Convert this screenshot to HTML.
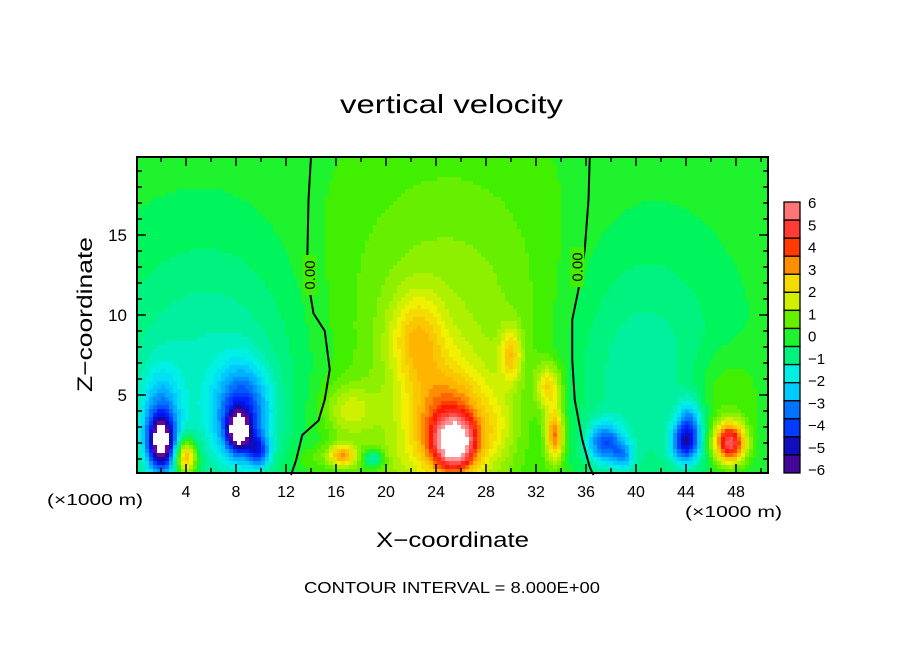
<!DOCTYPE html>
<html><head><meta charset="utf-8"><style>
body{margin:0;background:#fff;}
svg text{font-family:"Liberation Sans",sans-serif;fill:#000;}
</style></head><body>
<svg id="chart" width="904" height="654" xmlns="http://www.w3.org/2000/svg">
<text x="340" y="113" font-size="26" textLength="223" lengthAdjust="spacingAndGlyphs">vertical velocity</text>
<text x="376" y="547" font-size="21" textLength="153" lengthAdjust="spacingAndGlyphs">X−coordinate</text>
<text transform="translate(92,392) rotate(-90)" font-size="21" textLength="155" lengthAdjust="spacingAndGlyphs">Z−coordinate</text>
<text x="304" y="593" font-size="16" textLength="296" lengthAdjust="spacingAndGlyphs">CONTOUR INTERVAL = 8.000E+00</text>
<text x="47" y="505" font-size="16" textLength="96" lengthAdjust="spacingAndGlyphs">(×1000 m)</text>
<text x="685" y="517" font-size="16" textLength="97" lengthAdjust="spacingAndGlyphs">(×1000 m)</text>
<g id="field"></g>
<g id="contours"></g>
<g id="axes"></g>
<g id="cbar"></g>
</svg>
<script>
// blobs: x (km), z (km), amplitude, sigma-x, sigma-z
const blobX = [2,2,4,8.2,8.5,9.8,6,25,22.5,17,16.5,19,25.5,25,30,33,33.5,40,37.5,44,47.5,47,14,20,29,44.3,39];
const blobZ = [2,3.2,1.1,2.7,3.8,1.5,6,8,8.5,4,1.2,1,2,3,7.5,5.5,2.5,6,2,2,2,5,1,1,3,3.5,1.2];
const blobA = [-5,-2.5,4,-5,-3.5,-2.8,-1.3,1.2,1.8,1.4,3,-2,5,3,2,2.3,3.5,-1.2,-3.2,-4,5.5,0.8,0.6,0.3,0.6,-2,-1.8];
const blobSX = [0.7,1.1,0.6,0.6,1.5,0.6,6,7,1.5,1.5,0.8,0.6,1.1,2.4,0.6,0.7,0.5,5,1,0.8,0.9,2,1,1.5,1,0.7,0.6];
const blobSZ = [1.1,2.2,0.8,0.8,2,0.7,6,8,2,1.2,0.5,0.4,1.1,2.6,1.2,1,1.2,6,0.9,0.9,0.9,2,0.6,1,1.5,1,0.6];
// zero contour lines (x km at given z km)
const c1X = [14,13.8,13.7,13.9,14.2,15.1,15.5,15.1,14.6,13.3,12.8,12.4];
const c1Z = [19.9,17.2,13.4,11.5,10.1,9,6.6,4.7,3.4,2.5,0.9,0];
const c2X = [36.3,36.2,35.9,35.4,34.9,34.9,35.1,35.7,36.3,36.6];
const c2Z = [19.9,17.2,14.1,11.6,9.7,7.2,4.7,2.2,0.5,0];
const cbLabels = ["6","5","4","3","2","1","0","−1","−2","−3","−4","−5","−6"];
const xTicks = [4,8,12,16,20,24,28,32,36,40,44,48];
const yTicks = [5,10,15];

const NS="http://www.w3.org/2000/svg";
const X0=136,XS=12.5,Y0=475,YS=16,L=137,R=768,T=157,B=473;
const sx=x=>X0+x*XS, sy=z=>Y0-z*YS;
const stops=[[-6,[112,0,160]],[-5.3,[20,10,150]],[-4.5,[0,20,255]],[-3.5,[0,100,255]],[-2.5,[0,190,255]],[-1.8,[0,240,240]],[-1,[0,240,160]],[-0.3,[0,245,90]],[0.3,[60,240,0]],[1,[140,240,0]],[2,[240,240,0]],[3,[255,180,0]],[3.6,[255,110,0]],[4.3,[255,20,0]],[5.2,[255,70,70]],[6,[255,150,150]]];
function col(v){v=Math.round(v*3)/3;if(v>6.5||v<-6.5)return"#fff";if(v<=stops[0][0])return"rgb(112,0,160)";
for(let i=1;i<stops.length;i++){if(v<=stops[i][0]){const a=stops[i-1],b=stops[i],t=(v-a[0])/(b[0]-a[0]);
return"rgb("+a[1].map((c,k)=>Math.round(c+(b[1][k]-c)*t)).join(",")+")";}}return"rgb(255,150,150)";}
function f(x,z){let s=0;for(let i=0;i<blobX.length;i++){const dx=(x-blobX[i])/blobSX[i],dz=(z-blobZ[i])/blobSZ[i];s+=blobA[i]*Math.exp(-0.5*(dx*dx+dz*dz));}return s;}
const field=document.getElementById('field');const C=4;
for(let py=T;py<B;py+=C){for(let px=L;px<R;px+=C){
const x=(px+C/2-X0)/XS,z=(Y0-py-C/2)/YS;
const r=document.createElementNS(NS,'rect');
r.setAttribute('x',px);r.setAttribute('y',py);r.setAttribute('width',Math.min(C,R-px)+0.5);r.setAttribute('height',Math.min(C,B-py)+0.5);
r.setAttribute('fill',col(f(x,z)));


field.appendChild(r);}}
function line(xs,zs,name){const p=document.createElementNS(NS,'polyline');
p.setAttribute('points',xs.map((x,i)=>sx(x)+","+sy(zs[i])).join(" "));
p.setAttribute('fill','none');p.setAttribute('stroke','#000');p.setAttribute('stroke-width','2');


document.getElementById('contours').appendChild(p);}
line(c1X,c1Z,'zero-contour-left');line(c2X,c2Z,'zero-contour-right');
function txt(parent,x,y,s,size,anchor,name,rot){const t=document.createElementNS(NS,'text');t.setAttribute('x',x);t.setAttribute('y',y);t.setAttribute('font-size',size);t.setAttribute('text-anchor',anchor);if(rot)t.setAttribute('transform',rot);t.textContent=s;


parent.appendChild(t);return t;}
const cg=document.getElementById('contours');
[[13.9,12.5],[35.3,13]].forEach(([x,z])=>{const bx=document.createElementNS(NS,'rect');bx.setAttribute('x',sx(x)-7);bx.setAttribute('y',sy(z)-20);bx.setAttribute('width',14);bx.setAttribute('height',40);bx.setAttribute('fill',col(0.2));cg.appendChild(bx);
txt(cg,sx(x)+5,sy(z),"0.00",15,'middle','contour-label','rotate(-90 '+(sx(x)+5)+' '+sy(z)+')');});
const ax=document.getElementById('axes');
function seg(x1,y1,x2,y2,w){const l=document.createElementNS(NS,'line');l.setAttribute('x1',x1);l.setAttribute('y1',y1);l.setAttribute('x2',x2);l.setAttribute('y2',y2);l.setAttribute('stroke','#000');l.setAttribute('stroke-width',w||1.5);ax.appendChild(l);}
const fr=document.createElementNS(NS,'rect');fr.setAttribute('x',L);fr.setAttribute('y',T);fr.setAttribute('width',R-L);fr.setAttribute('height',B-T);fr.setAttribute('fill','none');fr.setAttribute('stroke','#000');fr.setAttribute('stroke-width','2');


ax.appendChild(fr);
for(let x=2;x<=50;x+=2){const big=x%4==0;seg(sx(x),B,sx(x),B-(big?9:5));seg(sx(x),T,sx(x),T+(big?9:5));}
xTicks.forEach(x=>txt(ax,sx(x),497,String(x),16,'middle','x-tick-label'));
for(let z=1;z<=19;z++){const big=z%5==0;seg(L,sy(z),L+(big?9:5),sy(z));seg(R,sy(z),R-(big?9:5),sy(z));}
yTicks.forEach(z=>txt(ax,127,sy(z)+6,String(z),17,'end','y-tick-label'));
const cb=document.getElementById('cbar');
const cbT=202,cbB=473,nb=15,bh=(cbB-cbT)/nb;
for(let i=0;i<nb;i++){const v=6.2-(i+0.5)*12.4/nb;const r=document.createElementNS(NS,'rect');r.setAttribute('x',784);r.setAttribute('y',cbT+i*bh);r.setAttribute('width',16);r.setAttribute('height',bh);r.setAttribute('fill',col(v));r.setAttribute('stroke','#000');r.setAttribute('stroke-width','1.3');


cb.appendChild(r);}
cbLabels.forEach((s,i)=>txt(cb,808,cbT+6+i*(cbB-cbT-4)/12,s,15,'start','colorbar-label'));
</script>
</body></html>
